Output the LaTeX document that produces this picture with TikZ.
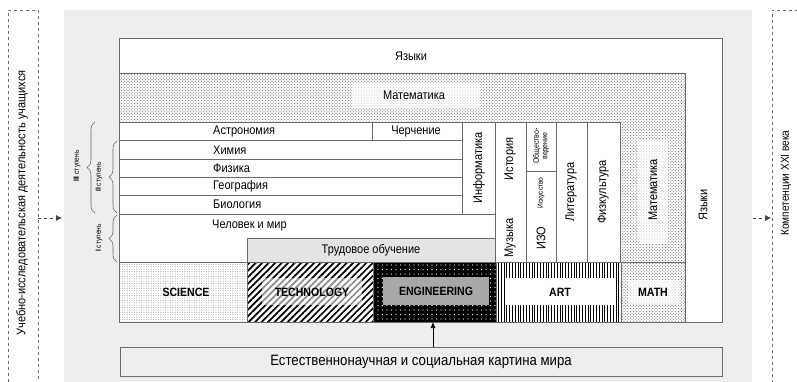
\documentclass[tikz,border=0pt]{standalone}
\usepackage{fontspec}
\setmainfont{Liberation Sans}[FakeStretch=0.88]
\usetikzlibrary{patterns,patterns.meta,arrows.meta,decorations.pathreplacing}
\definecolor{bg}{HTML}{EEEEEE}
\definecolor{edge}{HTML}{6A6A6A}
\definecolor{labgray}{HTML}{E4E4E4}
\definecolor{enggray}{HTML}{A8A8A8}
\tikzset{
  cell/.style={draw=edge, line width=0.7pt},
  lbl/.style={inner sep=0pt, font=\fontsize{12.5}{13}\selectfont},
  vlbl/.style={lbl, rotate=90},
  small/.style={inner sep=0pt, rotate=90, font=\fontsize{8}{8.5}\selectfont, align=center},
  bold/.style={inner sep=0pt, font=\fontsize{12}{13}\selectfont\bfseries},
  dashbox/.style={draw=edge, dashed, line width=0.5pt},
  dasharrow/.style={draw=black!75, dashed, line width=0.6pt, -{Latex[length=6pt,width=6pt]}},
  brc/.style={draw=edge, line width=0.6pt, decorate, decoration={brace, amplitude=8pt}},
  mathpat/.style={pattern={Dots[distance=3.2pt, radius=0.6pt]}, pattern color=black!65},
  mathpatb/.style={pattern={Dots[distance=3.2pt, radius=0.55pt, xshift=1.6pt, yshift=1.6pt]}, pattern color=black!50},
  glow/.style={fill=white, fill opacity=0.7, draw=none}
}
\begin{document}
\begin{tikzpicture}[x=1pt, y=-1pt]
\clip (0,0) rectangle (797,382);
% backgrounds
\fill[white] (0,0) rectangle (797,382);
\fill[bg] (64,10) rectangle (752,390);
% side dashed boxes
\draw[dashbox] (8,400) -- (8,10) -- (38,10) -- (38,400);
\draw[dashbox] (810,10) -- (772,10) -- (772,400);
\node[vlbl, font=\fontsize{12.5}{13}\selectfont] (pupils) at (22,203) {Учебно-исследовательская деятельность учащихся};
\node[vlbl, font=\fontsize{11.5}{12}\selectfont] (comp) at (786,183) {Компетенции XXI века};
\coordinate (leftout) at (38,218);
\coordinate (leftin) at (62,218);
\coordinate (rightout) at (753,218);
\coordinate (rightin) at (771,218);
\draw[dasharrow] (leftout) -- (leftin);
\draw[dasharrow] (rightout) -- (rightin);
% outer languages frame
\draw[cell, fill=white] (119,38) rectangle (722,322);
\node[lbl] (lang) at (411,56) {Языки};
\node[vlbl] (langv) at (703,205) {Языки};
% mathematics region
\fill[mathpat] (119,73) rectangle (685,322);
\fill[mathpatb] (119,73) rectangle (685,322);
\draw[cell] (119,73) -- (685,73) -- (685,322);
\fill[glow] (352,84) rectangle (480,108);
\node[lbl] (math) at (414,95) {Математика};
\fill[glow] (638,140) rectangle (668,244);
\node[vlbl] (mathv) at (653,190) {Математика};
% inner grid
\draw[cell, fill=white] (119,122) rectangle (620,262);
\draw[cell] (119,140) -- (462,140);
\draw[cell] (119,159) -- (462,159);
\draw[cell] (119,177) -- (462,177);
\draw[cell] (119,195) -- (462,195);
\draw[cell] (119,214) -- (495,214);
\draw[cell] (372,122) -- (372,140);
\draw[cell] (462,122) -- (462,214);
\draw[cell] (495,122) -- (495,262);
\draw[cell] (526,122) -- (526,262);
\draw[cell] (526,171) -- (556,171);
\draw[cell] (556,122) -- (556,262);
\draw[cell] (587,122) -- (587,262);
\draw[cell, fill=labgray] (247,238) rectangle (495,262);
\node[lbl, anchor=west] (astro) at (213,131) {Астрономия};
\node[lbl] (draft) at (416,131) {Черчение};
\node[lbl, anchor=west] (chem) at (213,150) {Химия};
\node[lbl, anchor=west] (phys) at (213,168) {Физика};
\node[lbl, anchor=west] (geo) at (213,186) {География};
\node[lbl, anchor=west] (bio) at (213,204) {Биология};
\node[lbl, anchor=west] (man) at (212,225) {Человек и мир};
\node[lbl] (labour) at (371,250) {Трудовое обучение};
\node[vlbl] (inf) at (479,168) {Информатика};
\node[vlbl] (hist) at (510,159) {История};
\node[small] (soc) at (541,146) {Общество-\\ведение};
\node[small, font=\fontsize{7.5}{8}\selectfont] (artsub) at (541,193) {Искусство};
\node[vlbl] (music) at (510,238) {Музыка};
\node[vlbl] (izo) at (541,238) {ИЗО};
\node[vlbl] (lit) at (571,192) {Литература};
\node[vlbl] (sport) at (603,192) {Физкультура};
% braces
\draw[brc] (95,213) -- (95,122);
\draw[brc] (117,213) -- (117,141);
\draw[brc] (117,262) -- (117,215);
\node[small, font=\fontsize{7.5}{8}\selectfont] (s3) at (77,166) {\textbf{III} ступень};
\node[small, font=\fontsize{7.5}{8}\selectfont] (s2) at (99,177) {\textbf{II} ступень};
\node[small, font=\fontsize{7.5}{8}\selectfont] (s1) at (99,238) {\textbf{I} ступень};
% STEAM row
\fill[white] (119,262) rectangle (621,322);
\fill[pattern={Dots[distance=2.4pt, radius=0.45pt]}, pattern color=gray!90] (119,262) rectangle (247,322);
\fill[pattern={Lines[angle=45, distance=4.6pt, line width=1.7pt]}, pattern color=black] (247,262) rectangle (373,322);
\fill[black] (373,262) rectangle (496,322);
\fill[pattern={Dots[distance=4.5pt, radius=0.55pt]}, pattern color=white] (373,262) rectangle (496,322);
\fill[pattern={Lines[angle=90, distance=2.8pt, line width=0.7pt]}, pattern color=black] (496,262) rectangle (621,322);
\draw[cell] (119,262) rectangle (685,322);
\draw[cell] (247,262) -- (247,322);
\draw[cell] (373,262) -- (373,322);
\draw[cell] (496,262) -- (496,322);
\draw[cell] (621,262) -- (621,322);
\fill[white, fill opacity=0.55] (262,278) rectangle (362,305);
\fill[enggray] (383,277) rectangle (489,305);
\fill[white] (506,278) rectangle (615,305);
\fill[glow] (628,280) rectangle (679,304);
\node[bold] (sci) at (186,292) {SCIENCE};
\node[bold] (tech) at (312,292) {TECHNOLOGY};
\node[bold, text=black] (eng) at (436,291) {ENGINEERING};
\node[bold] (art) at (560,292) {ART};
\node[bold] (mth) at (653,292) {MATH};
\coordinate (steam) at (433,322);
% bottom box
\node[cell, fill=bg, minimum width=602pt, minimum height=29pt, inner sep=0pt,
      font=\fontsize{15}{16}\selectfont] (world) at (421,361.5) {Естественнонаучная и социальная картина мира};
\draw[line width=0.7pt, -{Latex[length=6pt,width=5pt]}] (world.north -| steam) -- (steam);
\end{tikzpicture}
\end{document}
